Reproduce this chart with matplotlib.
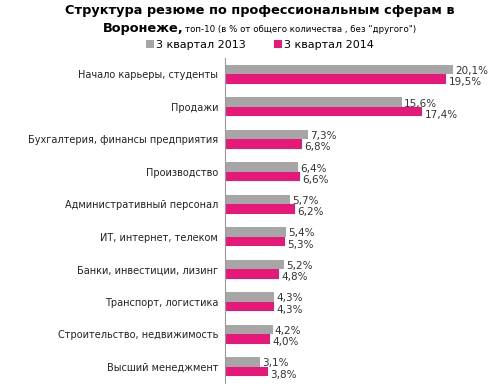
import numpy as np
from matplotlib import pyplot as plt

# categories (top to bottom)
categories = ['Начало карьеры, студенты', 'Продажи', 'Бухгалтерия, финансы предприятия',
              'Производство', 'Административный персонал', 'ИТ, интернет, телеком',
              'Банки, инвестиции, лизинг', 'Транспорт, логистика',
              'Строительство, недвижимость', 'Высший менеджмент']
q3_2013 = [20.1, 15.6, 7.3, 6.4, 5.7, 5.4, 5.2, 4.3, 4.2, 3.1]
q3_2014 = [19.5, 17.4, 6.8, 6.6, 6.2, 5.3, 4.8, 4.3, 4.0, 3.8]
series_names = ['3 квартал 2013', '3 квартал 2014']

gray = '#A6A6A6'
pink = '#E8177A'

fig = plt.figure(figsize=(5, 3.92), dpi=100)
ax = fig.add_axes([0.45, 0.023, 0.54, 0.829])

y = np.arange(len(categories))
h = 0.29
ax.barh(y - h/2, q3_2013, height=h, color=gray, label=series_names[0])
ax.barh(y + h/2, q3_2014, height=h, color=pink, label=series_names[1])

def fmt(v):
    return ('%.1f%%' % v).replace('.', ',')

for i in range(len(categories)):
    ax.text(q3_2013[i] + 0.2, y[i] - 0.1, fmt(q3_2013[i]), fontsize=7.5,
            color='#333333', ha='left', va='center')
    ax.text(q3_2014[i] + 0.2, y[i] + 0.24, fmt(q3_2014[i]), fontsize=7.5,
            color='#333333', ha='left', va='center')

ax.set_ylim(len(categories) - 0.5, -0.5)
ax.set_xlim(0, 23.8)
ax.set_yticks(y)
ax.set_yticklabels(categories, fontsize=7, color='#222222')
ax.set_xticks([])
ax.tick_params(axis='y', length=0, pad=5)
for s in ['top', 'right', 'bottom']:
    ax.spines[s].set_visible(False)
ax.spines['left'].set_color('#999999')

# title
fig.text(0.52, 0.974, 'Структура резюме по профессиональным сферам в', ha='center', va='center',
         fontsize=9.3, fontweight='bold')
fig.text(0.206, 0.928, 'Воронеже,', ha='left', va='center', fontsize=9.3, fontweight='bold')
fig.text(0.37, 0.926, 'топ-10 (в % от общего количества , без "другого")', ha='left',
         va='center', fontsize=6.2)

fig.legend(loc='center', bbox_to_anchor=(0.52, 0.885), ncol=2, frameon=False,
           fontsize=8, handlelength=0.7, handleheight=0.7, handletextpad=0.2,
           columnspacing=2.5)

plt.savefig('out.png', dpi=100)
